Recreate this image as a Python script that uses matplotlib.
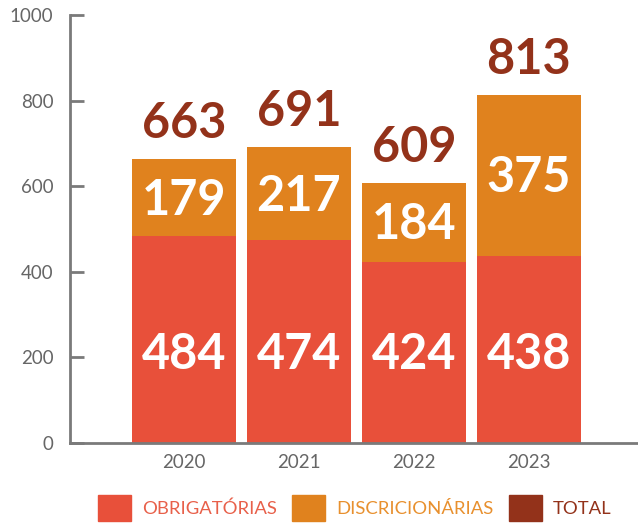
import matplotlib.pyplot as plt
from matplotlib.patches import Patch

# dados
anos = ['2020', '2021', '2022', '2023']
obrigatorias = [484, 474, 424, 438]
discricionarias = [179, 217, 184, 375]
totais = [663, 691, 609, 813]
rotulos = ['OBRIGATÓRIAS', 'DISCRICIONÁRIAS', 'TOTAL']

cor_obr = '#E8503A'
cor_disc = '#E0821E'
cor_tot = '#93321A'
cor_eixo = '#7A7A7A'

plt.rcParams['font.family'] = ['Lato', 'DejaVu Sans']

fig = plt.figure(figsize=(6.38, 5.24), dpi=100)
ax = fig.add_axes([70 / 638, 1 - 443 / 524, 1 - 70 / 638, 428 / 524])

x = list(range(len(anos)))
ax.bar(x, obrigatorias, width=0.9, color=cor_obr)
ax.bar(x, discricionarias, width=0.9, bottom=obrigatorias, color=cor_disc)

# rotulos dos valores
for i in x:
    ax.text(i, 207, str(obrigatorias[i]), ha='center', va='center',
            color='white', fontsize=35, fontweight='bold')
    meio = obrigatorias[i] + discricionarias[i] / 2 - 6
    ax.text(i, meio, str(discricionarias[i]), ha='center', va='center',
            color='white', fontsize=35, fontweight='bold')
    ax.text(i, totais[i] + 30, str(totais[i]), ha='center', va='bottom',
            color=cor_tot, fontsize=35, fontweight='bold')

ax.set_xlim(-0.99, 3.95)
ax.set_ylim(0, 1000)
ax.set_yticks([0, 200, 400, 600, 800, 1000])
ax.set_xticks(x)
ax.set_xticklabels(anos)

for s in ['top', 'right']:
    ax.spines[s].set_visible(False)
for s in ['left', 'bottom']:
    ax.spines[s].set_color(cor_eixo)
    ax.spines[s].set_linewidth(2)
ax.spines['left'].set_zorder(5)

ax.tick_params(axis='y', direction='in', length=10, width=2, color=cor_eixo,
               pad=12, labelsize=13.5, labelcolor='#666666')
ax.tick_params(axis='x', length=0, pad=8, labelsize=13.5, labelcolor='#666666')

# legenda
handles = [Patch(color=cor_obr), Patch(color=cor_disc), Patch(color=cor_tot)]
fig.legend(handles, rotulos, loc='center', bbox_to_anchor=(0.556, 0.03),
           ncol=3, frameon=False, fontsize=13.3, handlelength=1.78,
           handleheight=1.78, handletextpad=0.6, columnspacing=0.85,
           labelcolor=['#E8604A', '#E8902E', '#93321A'])

fig.savefig('out.png', dpi=100)
